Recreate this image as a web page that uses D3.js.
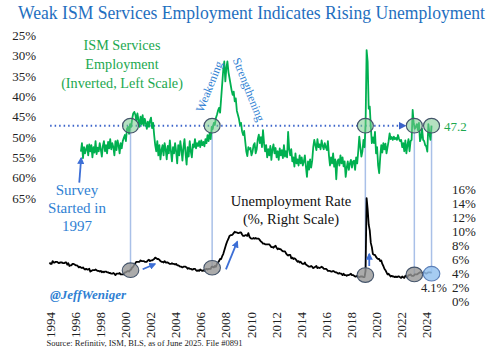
<!DOCTYPE html>
<html><head><meta charset="utf-8">
<script src="https://cdn.jsdelivr.net/npm/d3@7"></script>
<style>body{margin:0;background:#fff}svg{display:block}</style>
</head><body><svg id="c" width="500" height="359"></svg>
<script>
// ---------- DATA ----------
const yearLabels = [1994,1996,1998,2000,2002,2004,2006,2008,2010,2012,2014,2016,2018,2020,2022,2024];
const leftTicks = [25,30,35,40,45,50,55,60,65];
const rightTicks = [0,2,4,6,8,10,12,14,16];
// US unemployment rate, monthly from Jan 1995
const unrateStart = 1995;
const unrate = [
5.6,5.4,5.4,5.8,5.6,5.6,5.7,5.7,5.6,5.5,5.6,5.6,
5.6,5.5,5.5,5.6,5.6,5.3,5.5,5.1,5.2,5.2,5.4,5.4,
5.3,5.2,5.2,5.1,4.9,5.0,4.9,4.8,4.9,4.7,4.6,4.7,
4.6,4.6,4.7,4.3,4.4,4.5,4.5,4.5,4.6,4.5,4.4,4.4,
4.3,4.4,4.2,4.3,4.2,4.3,4.3,4.2,4.2,4.1,4.1,4.0,
4.0,4.1,4.0,3.8,4.0,4.0,4.0,4.1,3.9,3.9,3.9,3.9,
4.2,4.2,4.3,4.4,4.3,4.5,4.6,4.9,5.0,5.3,5.5,5.7,
5.7,5.7,5.7,5.9,5.8,5.8,5.8,5.7,5.7,5.7,5.9,6.0,
5.8,5.9,5.9,6.0,6.1,6.3,6.2,6.1,6.1,6.0,5.8,5.7,
5.7,5.6,5.8,5.6,5.6,5.6,5.5,5.4,5.4,5.5,5.4,5.4,
5.3,5.4,5.2,5.2,5.1,5.0,5.0,4.9,5.0,5.0,5.0,4.9,
4.7,4.8,4.7,4.7,4.6,4.6,4.7,4.7,4.5,4.4,4.5,4.4,
4.6,4.5,4.4,4.5,4.4,4.6,4.7,4.6,4.7,4.7,4.7,5.0,
5.0,4.9,5.1,5.0,5.4,5.6,5.8,6.1,6.1,6.5,6.8,7.3,
7.8,8.3,8.7,9.0,9.4,9.5,9.5,9.6,9.8,10.0,9.9,9.9,
9.8,9.8,9.9,9.9,9.6,9.4,9.4,9.5,9.5,9.4,9.8,9.3,
9.1,9.0,9.0,9.1,9.0,9.1,9.0,9.0,9.0,8.8,8.6,8.5,
8.3,8.3,8.2,8.2,8.2,8.2,8.2,8.0,7.8,7.8,7.7,7.9,
8.0,7.7,7.5,7.6,7.5,7.5,7.3,7.2,7.2,7.2,6.9,6.7,
6.6,6.7,6.7,6.2,6.3,6.1,6.2,6.1,5.9,5.7,5.8,5.6,
5.7,5.5,5.4,5.4,5.6,5.3,5.2,5.1,5.0,5.0,5.1,5.0,
4.8,4.9,5.0,5.1,4.8,4.9,4.8,4.9,5.0,4.9,4.7,4.7,
4.7,4.6,4.4,4.4,4.4,4.3,4.3,4.4,4.3,4.2,4.2,4.1,
4.0,4.1,4.0,4.0,3.8,4.0,3.8,3.8,3.7,3.8,3.8,3.9,
4.0,3.8,3.8,3.7,3.6,3.6,3.7,3.6,3.5,3.6,3.6,3.6,
3.5,3.5,4.4,14.8,13.2,11.0,10.2,8.4,7.8,6.8,6.7,6.7,
6.4,6.2,6.1,6.1,5.8,5.9,5.4,5.1,4.7,4.5,4.2,3.9,
4.0,3.8,3.6,3.7,3.6,3.6,3.5,3.6,3.5,3.6,3.6,3.5,
3.4,3.6,3.5,3.4,3.7,3.6,3.5,3.8,3.8,3.9,3.7,3.7,
3.7,3.9,3.9,3.9,4.0,4.1,4.2,4.2,4.1,4.1,4.2,4.1,
4.0,4.1,4.2,4.2,4.2,4.1];
// ISM Services employment index, monthly from Jul 1997
const ismStart = 1997.5;
const ism = [
53.6,51.5,55.2,52.5,54.0,53.0,
52.0,54.5,51.8,53.5,52.0,55.0,52.5,53.8,51.0,54.2,52.6,53.5,
51.5,53.0,54.8,52.2,51.0,53.5,52.0,54.0,51.2,52.8,50.5,53.0,
51.5,52.5,54.5,51.0,53.2,50.8,52.0,54.0,51.5,52.8,51.0,50.2,
49.5,51.0,48.0,47.5,49.2,46.8,47.5,45.5,44.2,43.8,44.5,46.0,
44.2,45.8,47.5,45.0,46.8,44.6,47.2,45.5,46.5,48.0,46.2,47.5,
46.0,45.2,47.8,46.5,49.5,52.0,53.5,51.0,54.5,52.0,55.5,53.2,
52.0,54.5,51.5,53.0,55.5,52.2,54.0,50.8,53.5,56.0,52.5,54.0,
51.5,53.5,56.5,52.0,54.5,51.0,53.0,55.8,52.5,50.5,54.0,56.8,
52.5,54.8,51.0,53.5,55.0,51.8,52.5,50.5,52.8,51.5,52.2,51.0,
52.5,50.8,52.0,51.2,52.3,50.5,51.5,49.5,51.0,49.0,50.5,47.5,
48.0,46.5,47.0,45.3,44.5,43.5,42.8,44.0,40.5,37.0,33.5,31.4,
36.3,33.0,31.4,34.0,35.5,37.0,38.5,39.6,38.8,41.2,40.5,43.5,
44.5,45.5,47.0,46.5,48.6,49.5,48.5,51.0,53.5,54.7,52.5,53.0,
52.7,54.5,53.6,52.0,51.5,54.0,53.0,50.5,49.4,51.5,50.0,52.5,
48.3,51.5,53.5,52.0,55.0,53.0,54.5,52.2,55.6,53.0,51.8,54.0,
52.7,55.0,53.5,55.6,52.8,54.5,53.2,55.2,52.0,54.8,53.5,55.0,
48.7,53.0,54.5,53.0,56.0,55.0,57.3,54.0,56.5,55.5,57.0,54.5,
56.5,55.0,57.0,56.0,54.5,57.3,59.8,56.0,58.0,55.5,57.5,55.8,
52.5,50.7,52.0,53.2,50.5,52.5,51.8,53.0,50.8,52.2,53.0,51.5,
52.5,53.2,51.0,54.5,57.0,55.0,56.5,54.0,57.3,55.5,60.4,56.0,
55.5,57.0,54.5,56.5,55.0,57.2,56.0,59.8,57.5,56.0,58.1,56.5,
55.6,57.5,56.0,55.8,58.1,55.0,56.5,53.5,49.9,52.5,54.8,53.5,
50.7,52.5,47.0,28.6,31.5,43.0,42.5,47.5,51.5,50.1,51.5,48.7,
54.0,52.5,57.0,58.9,55.0,52.0,53.8,51.5,53.0,51.6,54.0,52.5,
51.0,49.1,50.5,50.0,50.7,49.9,50.5,50.2,50.7,49.5,50.5,51.0,
50.7,52.5,51.5,53.5,50.8,54.0,52.0,50.5,53.5,51.0,50.7,43.3,
46.6,48.0,47.5,46.8,48.3,46.5,51.0,50.2,48.0,50.7,51.0,52.0,
52.3,53.6,46.8,49.0,50.7,47.2];
const latestIsm = 47.2;
// signal dates (decimal years) and unemployment level at each
const signalDates = [2001.45, 2007.95, 2020.15, 2024.05, 2025.42];
const signalUnrate = [4.5, 4.85, 3.8, 3.9, 4.0];

// ---------- SCALES ----------
const svg = d3.select('#c');
const serif = "'Liberation Serif', 'Times New Roman', serif";
const x = d3.scaleLinear().domain([1995, 2025 + 5/12]).range([49.5, 431.5]);
const yL = d3.scaleLinear().domain([25, 65]).range([35.5, 198]);
const yR = d3.scaleLinear().domain([0, 16]).range([301.7, 189.7]);
const blue = '#2f7fd3', green = '#1ca84f', arrowBlue = '#3d6fd6';

const defs = svg.append('defs');
function marker(id, color, w) {
  defs.append('marker').attr('id', id).attr('viewBox', '0 0 10 10').attr('refX', 8).attr('refY', 5)
    .attr('markerWidth', w).attr('markerHeight', w).attr('orient', 'auto-start-reverse')
    .append('path').attr('d', 'M0,0L10,5L0,10z').attr('fill', color);
}
marker('ah', arrowBlue, 4);
marker('ahd', '#3b63c9', 4);

// title
svg.append('text').attr('x', 18).attr('y', 19).attr('text-anchor', 'start')
  .attr('font-family', serif).attr('font-size', 18).attr('fill', '#1f6fc0')
  .attr('textLength', 467).attr('lengthAdjust', 'spacingAndGlyphs')
  .text('Weak ISM Services Employment Indicates Rising Unemployment');

// axes
const gl = svg.append('g').attr('transform', 'translate(36,0)')
  .call(d3.axisLeft(yL).tickValues(leftTicks).tickFormat(d => d + '%').tickSize(0).tickPadding(0));
const gr = svg.append('g').attr('transform', 'translate(452,0)')
  .call(d3.axisRight(yR).tickValues(rightTicks).tickFormat(d => d + '%').tickSize(0).tickPadding(0));
const gb = svg.append('g').attr('transform', 'translate(0,312)')
  .call(d3.axisBottom(x).tickValues(yearLabels.map(y => y + 1)).tickFormat(d => String(d - 1)).tickSize(0));
[gl, gr, gb].forEach(g => {
  g.select('.domain').remove();
  g.selectAll('text').attr('font-family', serif).attr('font-size', 13).attr('fill', '#222');
});
gb.selectAll('text').attr('transform', 'rotate(-90)').attr('text-anchor', 'end')
  .attr('x', 0).attr('y', 0).attr('dy', '0.35em');

// dotted 47.2 reference line
svg.append('line').attr('x1', x(1995.05)).attr('x2', x(2023.3))
  .attr('y1', yL(latestIsm)).attr('y2', yL(latestIsm))
  .attr('stroke', '#3b63c9').attr('stroke-width', 2).attr('stroke-dasharray', '1.5,3')
  .attr('marker-end', 'url(#ahd)');

// vertical connector lines
signalDates.forEach((d, i) => {
  svg.append('line').attr('x1', x(d)).attr('x2', x(d))
    .attr('y1', yL(latestIsm)).attr('y2', yR(signalUnrate[i]))
    .attr('stroke', '#a9c0e8').attr('stroke-width', 1.5);
});

// lines
const ismLine = d3.line().x((d, i) => x(ismStart + i / 12)).y(d => yL(d));
svg.append('path').datum(ism).attr('d', ismLine).attr('fill', 'none')
  .attr('stroke', '#00b050').attr('stroke-width', 1.8).attr('stroke-linejoin', 'round');
const urLine = d3.line().x((d, i) => x(unrateStart + i / 12)).y(d => yR(d));
svg.append('path').datum(unrate).attr('d', urLine).attr('fill', 'none')
  .attr('stroke', '#000').attr('stroke-width', 1.8).attr('stroke-linejoin', 'round');

// circles
signalDates.forEach((d, i) => {
  svg.append('ellipse').attr('cx', x(d)).attr('cy', yL(latestIsm)).attr('rx', 8).attr('ry', 7.3)
    .attr('fill', 'rgba(120,200,140,0.55)').attr('stroke', '#44546a').attr('stroke-width', 1.1);
  const last = i === signalDates.length - 1;
  svg.append('ellipse').attr('cx', x(d)).attr('cy', yR(signalUnrate[i])).attr('rx', 8.3).attr('ry', 7.3)
    .attr('fill', last ? 'rgba(150,195,240,0.85)' : 'rgba(150,150,150,0.8)')
    .attr('stroke', last ? '#5b7fb8' : '#44546a').attr('stroke-width', 1.1);
});

// arrows (data coordinates)
const arrows = [
  {a: [1997.37, 61.2], b: [1997.52, 55.2], s: 'L'},
  {a: [2002.42, 4.63], b: [2003.4, 5.39], s: 'R'},
  {a: [2009.05, 4.63], b: [2009.95, 8.57], s: 'R'},
  {a: [2020.46, 5.1], b: [2020.46, 6.8], s: 'R'}
];
arrows.forEach(o => {
  const ys = o.s === 'L' ? yL : yR;
  svg.append('line').attr('x1', x(o.a[0])).attr('y1', ys(o.a[1])).attr('x2', x(o.b[0])).attr('y2', ys(o.b[1]))
    .attr('stroke', arrowBlue).attr('stroke-width', 1.8).attr('marker-end', 'url(#ah)');
});

// text annotations
function txt(xp, yp, s, opt) {
  const t = svg.append('text').attr('x', xp).attr('y', yp).text(s)
    .attr('font-family', serif).attr('font-size', opt.size).attr('fill', opt.fill)
    .attr('text-anchor', opt.anchor || 'middle');
  if (opt.style) t.attr('font-style', opt.style);
  if (opt.weight) t.attr('font-weight', opt.weight);
  if (opt.rot != null) t.attr('transform', `rotate(${opt.rot},${xp},${yp})`);
  return t;
}
txt(122, 50, 'ISM Services', {size: 14.2, fill: green});
txt(122, 69, 'Employment', {size: 14.2, fill: green});
txt(122, 88, '(Inverted, Left Scale)', {size: 14.2, fill: green});
txt(77, 195, 'Survey', {size: 15, fill: blue});
txt(77, 213, 'Started in', {size: 15, fill: blue});
txt(77, 231, '1997', {size: 15, fill: blue});
txt(291, 206, 'Unemployment Rate', {size: 14.5, fill: '#111'});
txt(291, 224, '(%, Right Scale)', {size: 14.5, fill: '#111'});
txt(213, 88, 'Weakening', {size: 12, fill: blue, rot: -68});
txt(245, 91, 'Strengthening', {size: 12, fill: blue, rot: 68});
txt(444, 130.5, '47.2', {size: 13, fill: green, anchor: 'start'});
txt(434, 292, '4.1%', {size: 12.5, fill: '#222'});
txt(50, 299, '@JeffWeniger', {size: 13, fill: blue, anchor: 'start', style: 'italic', weight: 'bold'});
txt(46.5, 346, 'Source: Refinitiv, ISM, BLS, as of June 2025. File #0891', {size: 8.6, fill: '#222', anchor: 'start'})
  .attr('textLength', 196).attr('lengthAdjust', 'spacingAndGlyphs');
</script></body></html>
